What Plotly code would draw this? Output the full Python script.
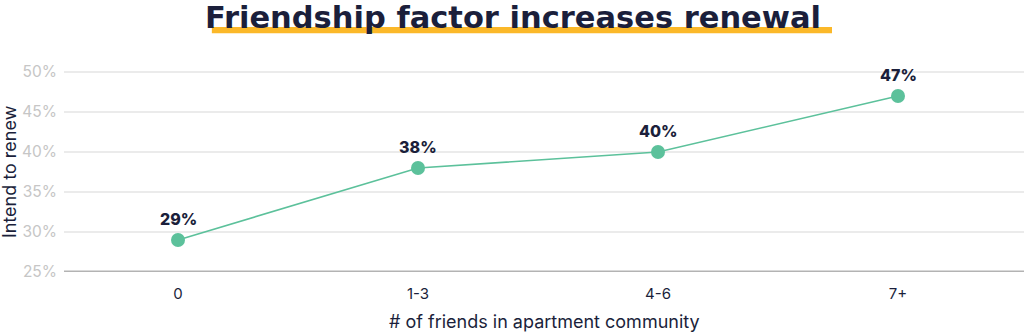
import plotly.graph_objects as go

# Share of residents intending to renew, by number of friends in the community
friend_groups = ["0", "1-3", "4-6", "7+"]
renew_pct = [29, 38, 40, 47]
y_ticks = [25, 30, 35, 40, 45, 50]

NAVY = "#1b1f3b"
GREEN = "#5cc19b"
FONT = "Inter, Roboto, Arial, sans-serif"
TITLE_FONT = "DejaVu Sans, Inter, sans-serif"

fig = go.Figure()

fig.add_trace(go.Scatter(
    x=list(range(len(friend_groups))),
    y=renew_pct,
    mode="lines+markers",
    line=dict(color=GREEN, width=1.6),
    marker=dict(color=GREEN, size=14),
    hoverinfo="skip",
    showlegend=False,
))

# Value labels above each point
for i, v in enumerate(renew_pct):
    fig.add_annotation(
        x=i, y=v, xref="x", yref="y",
        text=f"{v}%", showarrow=False,
        yanchor="middle", yshift=21,
        font=dict(family=FONT, size=16, color=NAVY, weight=800),
    )

# Title with highlighter underline
fig.add_shape(
    type="rect", xref="paper", yref="paper",
    x0=0.154, x1=0.80, y0=1.148, y1=1.178,
    fillcolor="#fbb829", line=dict(width=0), layer="above",
)
fig.add_annotation(
    x=0.468, y=1.2216, xref="paper", yref="paper",
    text="Friendship factor increases renewal", showarrow=False,
    xanchor="center", yanchor="middle",
    font=dict(family=TITLE_FONT, size=30.5, color=NAVY, weight=700),
)

# Axis titles
fig.add_annotation(
    x=-0.0573, y=0.485, xref="paper", yref="paper",
    text="Intend to renew", showarrow=False, textangle=-90,
    xanchor="center", yanchor="middle",
    font=dict(family=FONT, size=18, color=NAVY),
)
fig.add_annotation(
    x=0.5, y=-0.238, xref="paper", yref="paper",
    text="# of friends in apartment community", showarrow=False,
    xanchor="center", yanchor="middle",
    font=dict(family=FONT, size=18, color=NAVY),
)

fig.update_layout(
    width=1024, height=334,
    margin=dict(l=64, r=0, t=64, b=62),
    paper_bgcolor="white", plot_bgcolor="white",
    font=dict(family=FONT),
    xaxis=dict(
        range=[-0.475, 3.525],
        tickmode="array",
        tickvals=list(range(len(friend_groups))),
        ticktext=friend_groups,
        showgrid=False, zeroline=False, showline=False,
        ticks="", ticklabelstandoff=11,
        tickfont=dict(family=FONT, size=15, color=NAVY),
        fixedrange=True,
    ),
    yaxis=dict(
        range=[25, 51],
        tickmode="array",
        tickvals=y_ticks,
        ticktext=[f"{t}%" for t in y_ticks],
        showgrid=True, gridcolor="#ebebeb", gridwidth=1.5,
        zeroline=False, showline=False, ticks="",
        ticklabelstandoff=6,
        tickfont=dict(family=FONT, size=15.5, color="#c6c6c6"),
        fixedrange=True,
    ),
)

# Heavier baseline at the bottom of the value axis
fig.add_shape(
    type="line", xref="paper", yref="y",
    x0=0, x1=1, y0=25, y1=25,
    line=dict(color="#b3b3b3", width=3), layer="below",
)

fig.write_html("out.html")
